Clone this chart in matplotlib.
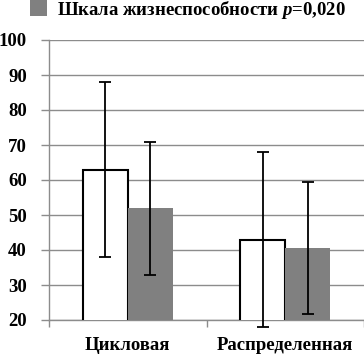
import matplotlib
matplotlib.use("Agg")
import matplotlib.pyplot as plt
import numpy as np
from matplotlib.patches import Rectangle

categories = ["Цикловая", "Распределенная"]
series1_values = [63, 43]      # white bars
series1_err = [25, 25]
series2_values = [52, 40.5]    # gray bars
series2_err = [19, 18.8]
yticks = [20, 30, 40, 50, 60, 70, 80, 90, 100]
legend_label = "Шкала жизнеспособности $\\boldsymbol{p}$=0,020"

FONT = "Liberation Serif"
plt.rcParams["font.family"] = [FONT, "DejaVu Serif"]
plt.rcParams["font.weight"] = "bold"
plt.rcParams["mathtext.fontset"] = "custom"
plt.rcParams["mathtext.bfit"] = f"{FONT}:bold:italic"
plt.rcParams["mathtext.it"] = f"{FONT}:bold:italic"

fig = plt.figure(figsize=(3.64, 3.56), dpi=100)
ax = fig.add_axes([49/364, 1-320/356, 1-49/364, (320-40)/356])

x = np.arange(len(categories)) + 0.5
w = 0.287
grid_c = "#8c8c8c"

ax.bar(x - w/2, series1_values, width=w, color="white", edgecolor="black",
       linewidth=1.5, zorder=3)
ax.bar(x + w/2, series2_values, width=w, color="#808080", edgecolor="none", zorder=3)
for xs, vals, errs in [(x - w/2, series1_values, series1_err),
                       (x + w/2, series2_values, series2_err)]:
    eb = ax.errorbar(xs, vals, yerr=errs, fmt="none", ecolor="black",
                     elinewidth=1.3, capsize=4, capthick=1.3, zorder=4)
    for art in list(eb.lines[1]) + list(eb.lines[2]):
        art.set_clip_on(False)

ax.set_ylim(20, 100)
ax.set_xlim(0, 2)
ax.set_yticks(yticks)
ax.set_yticklabels([str(v) for v in yticks])
ax.set_xticks([0, 1, 2])
ax.set_xticklabels([])
ax.set_xticks(x, minor=True)
ax.set_xticklabels(categories, minor=True)
ax.tick_params(axis="x", which="minor", length=0, pad=12, labelsize=13.5)
ax.tick_params(axis="x", which="major", length=5, color=grid_c, width=1)
ax.tick_params(axis="y", length=6, color=grid_c, width=1, pad=10, labelsize=13.5)
ax.yaxis.grid(True, color=grid_c, linewidth=1, zorder=0)
ax.set_axisbelow(True)
for s in ["top", "right"]:
    ax.spines[s].set_visible(False)
ax.spines["left"].set_color(grid_c)
ax.spines["bottom"].set_color(grid_c)
ax.spines["left"].set_linewidth(1)
ax.spines["bottom"].set_linewidth(1)
for lab in ax.get_yticklabels() + ax.get_xticklabels(minor=True):
    lab.set_fontweight("bold")

# legend (partially cut at top in the reference)
fig.patches.append(Rectangle((30/364, 1-16/356), 17/364, 20/356, transform=fig.transFigure,
                             facecolor="#808080", edgecolor="none"))
fig.text(57/364, 1-15/356, legend_label, fontsize=13.5, fontweight="bold",
         ha="left", va="baseline")

fig.savefig("out.png", dpi=100)
